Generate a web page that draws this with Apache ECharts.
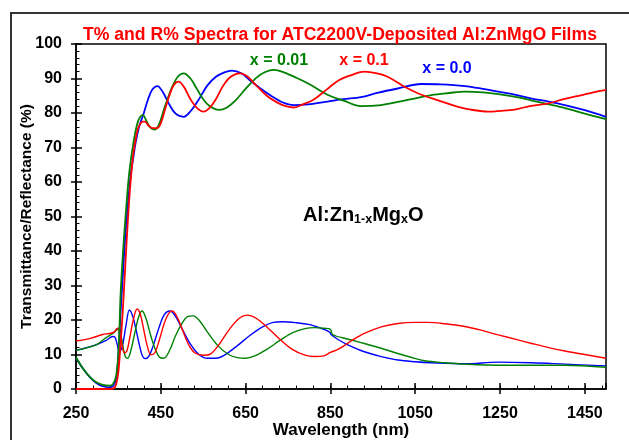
<!DOCTYPE html>
<html>
<head>
<meta charset="utf-8">
<script src="https://cdn.jsdelivr.net/npm/echarts@6/dist/echarts.min.js"></script>
<style>
  html, body { margin: 0; padding: 0; background: #fff; }
  #chart { width: 629px; height: 440px; }
</style>
</head>
<body>
<div id="chart"></div>
<script>
// wavelength (nm) / value (%)
// transmittance, x = 0.0 (blue)
var wlT0 = [250, 266, 282, 297, 313, 329, 337, 345, 350, 355, 360, 365, 370, 375, 380, 385, 390, 395, 400, 410, 420, 430, 442, 455, 470, 485, 504, 520, 540, 560, 580, 600, 618, 640, 660, 685, 710, 735, 764, 804, 843, 880, 922, 960, 1009, 1064, 1110, 1167, 1210, 1246, 1290, 1325, 1365, 1403, 1450, 1500]
var tX0 = [9, 6, 3.5, 1.8, 0.8, 0.5, 0.8, 3, 10, 22, 32, 42, 50, 57, 63, 67, 71, 74, 76.5, 80, 84, 86.8, 87.8, 86, 82.5, 79.8, 78.9, 80.5, 84, 88, 90.5, 91.8, 92.3, 91.5, 89.5, 87.1, 85, 83.2, 82.3, 82.6, 83.3, 84, 84.6, 85.8, 87.1, 88.4, 88.3, 87.8, 87, 86.2, 85.2, 84.2, 83.3, 82.3, 80.8, 78.9]
// transmittance, x = 0.01 (green)
var wlT1 = [250, 266, 282, 297, 313, 329, 337, 345, 351, 355, 360, 365, 370, 375, 380, 385, 390, 396, 402, 408, 415, 425, 435, 445, 460, 475, 490, 504, 520, 535, 550, 565, 587, 605, 625, 650, 675, 695, 717, 740, 770, 804, 843, 883, 922, 970, 1009, 1048, 1088, 1130, 1167, 1210, 1246, 1290, 1325, 1365, 1403, 1450, 1500]
var tX1 = [9.2, 6, 3.6, 2, 1.2, 1, 1.4, 4, 12.8, 27, 38, 47, 55, 62, 67, 71, 74.5, 77.5, 79, 79.4, 78, 75.8, 75.2, 76.5, 82, 87, 90.5, 91.5, 90, 87, 84, 82, 80.9, 81.5, 83.5, 87, 90.2, 91.8, 92.5, 91.8, 90.2, 88.1, 85.3, 83.5, 82, 82.3, 83.2, 84.2, 85.2, 85.8, 86.2, 86, 85.5, 84.6, 83.6, 82.5, 81.4, 79.8, 78.2]
// transmittance, x = 0.1 (red)
var wlT2 = [250, 330, 340, 345, 350, 355, 360, 365, 370, 375, 380, 385, 390, 395, 400, 407, 413, 420, 428, 435, 441, 450, 460, 470, 480, 492, 505, 520, 535, 551, 565, 580, 595, 610, 625, 638, 655, 675, 700, 725, 745, 764, 785, 812, 843, 870, 900, 930, 960, 985, 1025, 1060, 1088, 1120, 1151, 1190, 1222, 1250, 1285, 1320, 1364, 1400, 1443, 1470, 1500]
var tX2 = [0, 0, 0.3, 1.5, 5, 13, 22, 33, 44, 54, 62, 68, 72, 75, 76.5, 77.5, 77.5, 76.5, 75.7, 75.6, 75.6, 77, 81, 85, 88, 89.1, 87.5, 84, 81.5, 80.4, 81.5, 84, 87.5, 90, 91.2, 91.5, 90.5, 88, 85, 83, 82, 81.6, 82.5, 84, 87, 89.5, 91, 92, 91.5, 90.5, 87.6, 85.5, 84.3, 83, 81.8, 80.8, 80.4, 80.6, 81, 82, 82.8, 84, 85.2, 86, 86.7]
// reflectance, x = 0.0 (blue)
var wlR0 = [250, 297, 320, 337, 342, 347, 352, 357, 362, 368, 376, 384, 392, 400, 407, 414, 422, 432, 445, 458, 472, 485, 500, 520, 540, 560, 580, 600, 630, 660, 690, 715, 737, 770, 804, 830, 848, 852, 870, 891, 930, 970, 1009, 1050, 1088, 1167, 1246, 1325, 1403, 1500]
var rX0 = [11.2, 12.8, 14, 15.2, 15, 13, 11, 11.5, 14, 18.5, 22.9, 21, 17, 12.5, 9.5, 8.8, 9.5, 12.5, 17.5, 21.5, 22.6, 21, 17.5, 13, 10, 8.9, 8.9, 9.8, 12.5, 15.5, 18, 19.3, 19.5, 19.2, 18.6, 17.5, 16.5, 15.7, 14.2, 12.8, 10.8, 9.4, 8.4, 7.9, 7.6, 7.3, 7.8, 7.6, 7.2, 6.7]
// reflectance, x = 0.01 (green)
var wlR1 = [250, 297, 320, 337, 345, 352, 357, 362, 367, 372, 380, 390, 398, 406, 415, 425, 437, 447, 457, 470, 485, 500, 513, 526, 540, 560, 585, 610, 630, 650, 670, 700, 730, 760, 790, 812, 835, 850, 855, 890, 930, 970, 1009, 1040, 1072, 1120, 1167, 1246, 1325, 1403, 1500]
var rX1 = [11.2, 12.8, 14.8, 16.1, 17, 17.6, 15, 11.5, 9.2, 8.9, 11.5, 17, 21, 22.6, 20.5, 16, 11.5, 9.2, 8.9, 11, 15.5, 19, 21, 21.2, 20, 16.5, 12.5, 10, 9.1, 8.9, 9.5, 11.5, 14, 16.3, 17.5, 17.8, 17.6, 17.3, 15.8, 14.5, 13.2, 11.8, 10.3, 9.2, 8.2, 7.6, 7.2, 6.9, 6.9, 6.9, 6.3]
// reflectance, x = 0.1 (red)
var wlR2 = [250, 282, 313, 329, 340, 345, 349, 353, 358, 364, 370, 377, 385, 394, 402, 410, 418, 427, 436, 446, 458, 468, 477, 488, 500, 515, 530, 551, 565, 585, 610, 635, 654, 675, 700, 730, 760, 790, 812, 835, 850, 870, 900, 930, 970, 1009, 1050, 1080, 1120, 1167, 1200, 1246, 1290, 1325, 1365, 1403, 1450, 1500]
var rX2 = [13.9, 14.6, 15.8, 16.1, 16.5, 17.3, 17.6, 16, 13, 10.5, 11, 15, 20, 23.2, 21.5, 17, 12.5, 9.9, 10.5, 14, 19, 21.8, 22.6, 21, 17.5, 13, 10.5, 9.8, 10, 12.5, 17, 20.5, 21.4, 20.5, 18, 14.5, 11.5, 9.8, 9.4, 9.6, 10.6, 11.6, 14, 16.1, 18, 19, 19.3, 19.3, 18.9, 18.1, 17.2, 15.7, 14.3, 13.2, 12, 11, 10, 8.9]

var xTicks = [250, 450, 650, 850, 1050, 1250, 1450]
var yTicks = [0, 10, 20, 30, 40, 50, 60, 70, 80, 90, 100]

var BLUE = '#0000ff'
var GREEN = '#008000'
var RED = '#ff0000'
var FONT = "'Liberation Sans', Arial, sans-serif"

function pairs(xs, ys) {
  var out = []
  for (var i = 0; i < xs.length; i++) {
    out.push([xs[i], ys[i]])
  }
  return out
}

function curve(name, color, width, xs, ys) {
  return {
    name: name,
    type: 'line',
    xAxisIndex: 0,
    yAxisIndex: 0,
    showSymbol: false,
    smooth: 0.35,
    lineStyle: { color: color, width: width },
    data: pairs(xs, ys)
  }
}

// same rectangle for all three grids (2nd and 3rd only carry extra ticks)
var box = { left: 76, right: 23, top: 44, bottom: 51, containLabel: false, outerBoundsMode: 'none' }
var chart = echarts.init(document.getElementById('chart'))

var option = {
  animation: false,
  grid: [
    Object.assign({ show: true, borderColor: '#000', borderWidth: 1.5 }, box),
    Object.assign({}, box),
    Object.assign({}, box)
  ],
  xAxis: [
    {
      gridIndex: 0,
      type: 'value',
      min: xTicks[0],
      max: 1500,
      interval: 200,
      name: 'Wavelength (nm)',
      nameLocation: 'middle',
      nameGap: 33,
      nameMoveOverlap: false,
      nameTextStyle: { fontFamily: FONT, fontWeight: 'bold', fontSize: 17, color: '#000' },
      axisLine: { lineStyle: { color: '#000', width: 1.5 } },
      axisTick: { inside: false, length: 5, lineStyle: { color: '#000', width: 1.5 } },
      axisLabel: {
        margin: 17,
        showMaxLabel: false,
        fontFamily: FONT, fontWeight: 'bold', fontSize: 16, color: '#000',
        formatter: function (v) { return xTicks.indexOf(v) >= 0 ? String(v) : '' }
      },
      splitLine: { show: false }
    },
    {
      gridIndex: 1,
      type: 'value',
      min: xTicks[0], max: 1500, interval: 200,
      axisLine: { show: false },
      axisTick: { inside: true, length: 6, lineStyle: { color: '#000', width: 1.5 } },
      axisLabel: { show: false },
      splitLine: { show: false }
    },
    {
      gridIndex: 2,
      type: 'value',
      min: xTicks[0], max: 1500, interval: 40,
      axisLine: { show: false },
      axisTick: { inside: true, length: 3.5, lineStyle: { color: '#000', width: 1 } },
      axisLabel: { show: false },
      splitLine: { show: false }
    }
  ],
  yAxis: [
    {
      gridIndex: 0,
      type: 'value',
      min: yTicks[0],
      max: yTicks[yTicks.length - 1],
      interval: 10,
      name: 'Transmittance/Reflectance (%)',
      nameLocation: 'middle',
      nameGap: 41,
      nameMoveOverlap: false,
      nameTextStyle: { fontFamily: FONT, fontWeight: 'bold', fontSize: 15.5, color: '#000' },
      axisLine: { show: true, lineStyle: { color: '#000', width: 1.5 } },
      axisTick: { inside: false, length: 5, lineStyle: { color: '#000', width: 1.5 } },
      axisLabel: { margin: 14, fontFamily: FONT, fontWeight: 'bold', fontSize: 16, color: '#000' },
      splitLine: { show: false }
    },
    {
      gridIndex: 1,
      type: 'value',
      min: 0, max: 100, interval: 10,
      axisLine: { show: false },
      axisTick: { inside: true, length: 6, lineStyle: { color: '#000', width: 1.5 } },
      minorTick: { show: true, splitNumber: 5, length: 3.5, lineStyle: { color: '#000', width: 1 } },
      axisLabel: { show: false },
      splitLine: { show: false }
    },
    {
      gridIndex: 2,
      type: 'value',
      min: 0, max: 100,
      show: false
    }
  ],
  series: [
    curve('R x=0.0', BLUE, 1.4, wlR0, rX0),
    curve('R x=0.01', GREEN, 1.4, wlR1, rX1),
    curve('R x=0.1', RED, 1.4, wlR2, rX2),
    curve('T x=0.0', BLUE, 1.8, wlT0, tX0),
    curve('T x=0.01', GREEN, 1.8, wlT1, tX1),
    curve('T x=0.1', RED, 1.8, wlT2, tX2)
  ],
  graphic: [
    {
      type: 'rect',
      silent: true,
      shape: { x: 11, y: 13, width: 700, height: 500 },
      style: { fill: 'none', stroke: '#333', lineWidth: 2 }
    },
    {
      type: 'text',
      style: {
        x: 340, y: 35, text: 'T% and R% Spectra for ATC2200V-Deposited Al:ZnMgO Films',
        fill: RED, font: 'bold 17.6px ' + FONT, textAlign: 'center', textVerticalAlign: 'middle'
      }
    },
    {
      type: 'text',
      style: { x: 279, y: 61, text: 'x = 0.01', fill: GREEN, font: 'bold 16px ' + FONT, textAlign: 'center', textVerticalAlign: 'middle' }
    },
    {
      type: 'text',
      style: { x: 364, y: 61, text: 'x = 0.1', fill: RED, font: 'bold 16px ' + FONT, textAlign: 'center', textVerticalAlign: 'middle' }
    },
    {
      type: 'text',
      style: { x: 447, y: 69, text: 'x = 0.0', fill: BLUE, font: 'bold 16px ' + FONT, textAlign: 'center', textVerticalAlign: 'middle' }
    },
    {
      type: 'text',
      style: {
        x: 303, y: 215,
        text: '{a|Al:Zn}{b|1-x}{a|Mg}{b|x}{a|O}',
        textVerticalAlign: 'middle',
        rich: {
          a: { fontFamily: FONT, fontWeight: 'bold', fontSize: 20, fill: '#000', lineHeight: 22 },
          b: { fontFamily: FONT, fontWeight: 'bold', fontSize: 12.5, fill: '#000', verticalAlign: 'bottom', lineHeight: 14 }
        }
      }
    }
  ]
}

chart.setOption(option)
</script>
</body>
</html>
